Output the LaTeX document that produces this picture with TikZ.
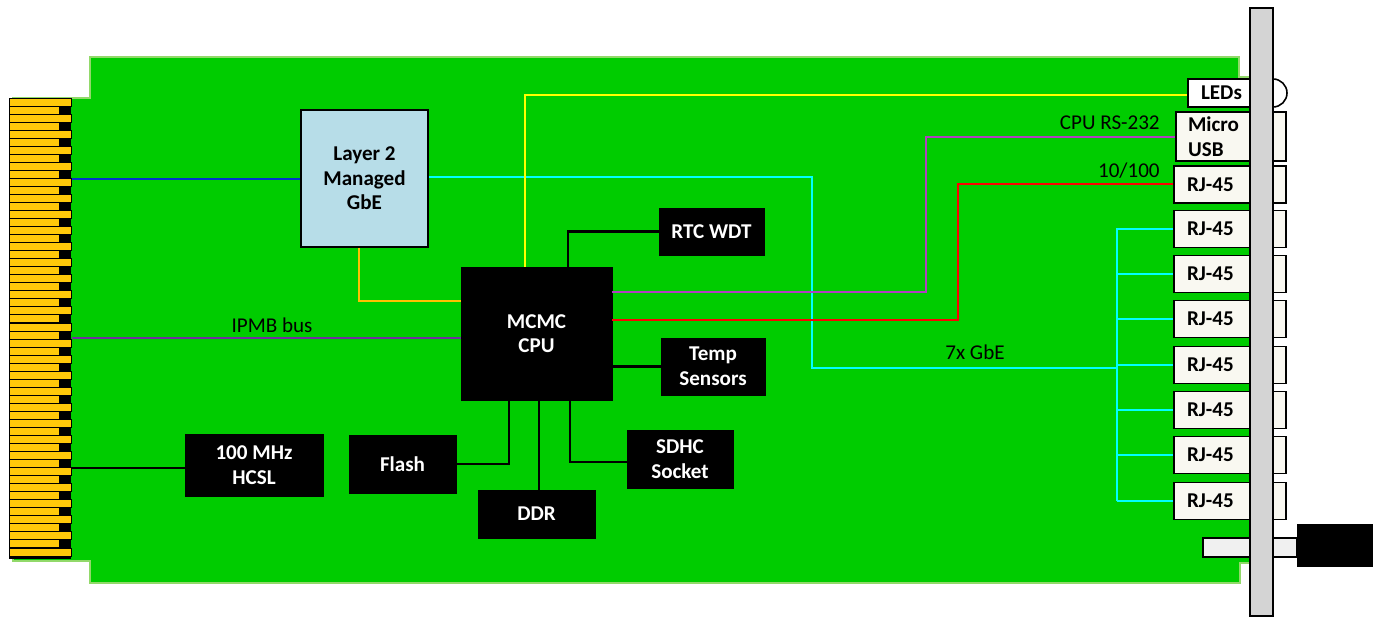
\documentclass[tikz,border=0pt]{standalone}
\usepackage{fontspec}
\setmainfont{Carlito}
\def\pxu{0.02cm}
\definecolor{pcbgreen}{HTML}{00CC00}
\definecolor{pcbedge}{HTML}{92D96A}
\definecolor{goldpin}{HTML}{FFC90A}
\definecolor{lightblue}{HTML}{B7DDE8}
\definecolor{cream}{HTML}{F9F8F1}
\definecolor{panelgray}{HTML}{D4D4D4}
\definecolor{latchgray}{HTML}{F0F0F0}
\definecolor{wireblue}{HTML}{0033CC}
\definecolor{wirecyan}{HTML}{00FFFF}
\definecolor{wireyellow}{HTML}{FFFF00}
\definecolor{wireorange}{HTML}{FFC000}
\definecolor{wiremagenta}{HTML}{B040C0}
\definecolor{wirepurple}{HTML}{7030A0}
\definecolor{wirered}{HTML}{FF0000}
\tikzset{
  chip/.style={draw=black, fill=black, text=white, font=\bfseries\fontsize{12}{14}\selectfont, align=center, inner sep=0pt},
  port/.style={draw=black, line width=0.9pt, fill=cream, font=\bfseries\fontsize{12}{14}\selectfont, align=left, inner ysep=0pt},
  wire/.style={line width=1.4pt},
  lbl/.style={font=\fontsize{12}{13}\selectfont, inner sep=0pt}
}
\begin{document}
\begin{tikzpicture}[x=0.02cm, y=-0.02cm]
\useasboundingbox (0, 0) rectangle (1376, 617);

%% PCB outline
\draw[draw=pcbedge, line width=1.1pt, fill=pcbgreen] (13, 98) -- (90, 98) -- (90, 57) -- (1239, 57) -- (1239, 77) -- (1250, 77)
   -- (1250, 563) -- (1240, 563) -- (1240, 583) -- (90, 583) -- (90, 561) -- (13, 561) -- cycle;

%% edge connector fingers
\fill[black] (9, 98) rectangle (71, 559);
\foreach \i in {0, ..., 28}
  \draw[fill=goldpin, line width=0.5pt] (9, 98+16.07*\i) rectangle (71, 106+16.07*\i);
\foreach \i in {0, ..., 27}
  \draw[fill=goldpin, line width=0.5pt] (9, 106+16.07*\i) rectangle (59, 114+16.07*\i);

%% blocks
\node[draw=black, line width=0.9pt, fill=lightblue, font=\bfseries\fontsize{12}{14}\selectfont, align=center,
  minimum width=127*\pxu, minimum height=137*\pxu, inner sep=0pt] (gbe) at (364.5, 178.5) {Layer 2\\Managed\\GbE};
\node[chip, minimum width=151*\pxu, minimum height=133*\pxu] (cpu) at (536.5, 333.5) {MCMC\\CPU};
\node[chip, minimum width=105*\pxu, minimum height=47*\pxu] (rtc) at (711.5, 231.5) {RTC WDT};
\node[chip, minimum width=104*\pxu, minimum height=57*\pxu] (temp) at (713, 366.5) {Temp\\Sensors};
\node[chip, minimum width=106*\pxu, minimum height=58*\pxu] (sdhc) at (680, 459) {SDHC\\Socket};
\node[chip, minimum width=117*\pxu, minimum height=48*\pxu] (ddr) at (536.5, 514) {DDR};
\node[chip, minimum width=107*\pxu, minimum height=58*\pxu] (flash) at (402.5, 464) {Flash};
\node[chip, minimum width=138*\pxu, minimum height=62*\pxu] (hcsl) at (254, 465) {100 MHz\\HCSL};

%% front panel connectors, the panel goes on top of them
\node[port, fill=white, inner xsep=13*\pxu, text width=36*\pxu, minimum height=28*\pxu] (leds) at (1219, 93) {LEDs};
\node[port, inner xsep=12*\pxu, text width=86*\pxu, minimum height=49*\pxu] (usb) at (1231, 136.5) {Micro\\USB};
\foreach \name/\y in {rja/184.5, rjb/229, rjc/274, rjd/319, rje/365, rjf/410, rjg/455, rjh/501}
  \node[port, inner xsep=13*\pxu, text width=86*\pxu, minimum height=37*\pxu] (\name) at (1230, \y) {RJ-45};
\draw[line width=0.9pt, fill=white] (1273, 79) arc[start angle=90, end angle=-90, radius=0.28cm];
\node[draw=black, line width=0.9pt, fill=latchgray, minimum width=94*\pxu, minimum height=19*\pxu, inner sep=0pt] (latch) at (1250, 547.5) {};
\node[fill=black, minimum width=76*\pxu, minimum height=43*\pxu, inner sep=0pt] (handle) at (1335, 545.5) {};
\node[draw=black, line width=0.9pt, fill=panelgray, minimum width=23*\pxu, minimum height=608*\pxu, inner sep=0pt] (panel) at (1261.5, 312) {};

%% wires
\draw[wire, wireblue] (72, 179) -- (gbe.west |- 0, 179);
\draw[wire, wirecyan] (gbe.east |- 0, 177) -- (812, 177) -- (812, 368) -- (1117, 368);
\draw[wire, wirecyan] (rjb.west) -- (1117, 229) -- (rjh.west -| 1117, 0);
\foreach \name in {rjc, rjd, rje, rjf, rjg}
  \draw[wire, wirecyan] (1117, 0 |- \name.west) -- (\name.west);
\draw[wire, wirecyan] (rjh.west) -- (rjh.west -| 1117, 0);
\draw[wire, wireyellow] (cpu.north -| 525, 0) -- (525, 95) -- (leds.west |- 0, 95);
\draw[wire, wireorange] (gbe.south -| 359, 0) -- (359, 301) -- (cpu.west |- 0, 301);
\draw[wire, wiremagenta] (cpu.east |- 0, 292) -- (926, 292) -- (926, 137) -- (usb.west |- 0, 137);
\draw[wire, wirered] (cpu.east |- 0, 320) -- (958, 320) -- (958, 184) -- (rja.west |- 0, 184);
\draw[wire, wirepurple] (72, 338) -- (cpu.west |- 0, 338);
\draw[wire] (cpu.north -| 568, 0) |- (rtc.west);
\draw[wire] (cpu.east |- temp.west) -- (temp.west);
\draw[wire] (cpu.south -| 570, 0) -- (570, 462) -- (sdhc.west |- 0, 462);
\draw[wire] (cpu.south -| 539, 0) -- (ddr.north -| 539, 0);
\draw[wire] (cpu.south -| 509, 0) -- (509, 464) -- (flash.east);
\draw[wire] (72, 468) -- (hcsl.west |- 0, 468);

%% bus labels
\node[lbl, anchor=base east] (rs232) at (1160, 130) {CPU RS-232};
\node[lbl, anchor=base east] (fast) at (1160, 178) {10/100};
\node[lbl, anchor=base] (gig) at (975, 360) {7x GbE};
\node[lbl, anchor=base] (ipmb) at (272, 333) {IPMB bus};
\end{tikzpicture}
\end{document}
